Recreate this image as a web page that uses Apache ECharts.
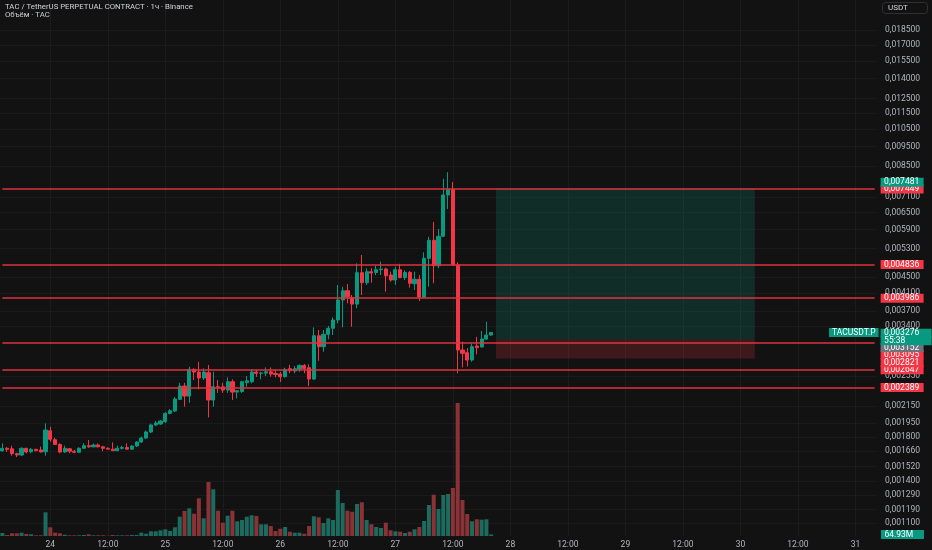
<!DOCTYPE html>
<html>
<head>
<meta charset="utf-8">
<script src="https://cdn.jsdelivr.net/npm/echarts@6/dist/echarts.min.js"></script>
<style>
html,body{margin:0;padding:0;background:#121212;}
#c{width:932px;height:550px;}
</style>
</head>
<body>
<div id="c"></div>
<script>
// ---- DATA (hourly candles, TAC/USDT perpetual) ----
const opens = [
0.001663,0.001688,0.001683,0.001637,0.001625,0.001688,0.001655,0.001678,0.001672,0.001655,
0.001866,0.001773,0.001726,0.001653,0.001683,0.001660,0.001650,0.001688,0.001714,0.001702,
0.001720,0.001702,0.001688,0.001680,0.001665,0.001688,0.001695,0.001680,0.001710,0.001750,
0.001790,0.001853,0.001929,0.001940,0.001966,0.002061,0.002089,0.002234,0.002410,0.002276,
0.002652,0.002612,0.002524,0.002602,0.002225,0.002400,0.002400,0.002356,0.002471,0.002329,
0.002337,0.002457,0.002471,0.002612,0.002593,0.002596,0.002616,0.002590,0.002582,0.002543,
0.002662,0.002627,0.002652,0.002713,0.002677,0.002509,0.003215,0.003020,0.003241,0.003355,
0.003518,0.003945,0.004160,0.004002,0.003853,0.004612,0.004355,0.004638,0.004618,0.004692,
0.004711,0.004551,0.004423,0.004692,0.004484,0.004618,0.004330,0.004441,0.004010,0.005008,
0.005552,0.004800,0.005680,0.007195,0.007420,0.004820,0.002963,0.002917,0.002797,0.003032,
0.003015,0.003154,0.003228];
const closes = [
0.001688,0.001678,0.001637,0.001625,0.001688,0.001653,0.001678,0.001665,0.001653,0.001874,
0.001777,0.001726,0.001653,0.001688,0.001660,0.001650,0.001688,0.001714,0.001702,0.001720,
0.001702,0.001688,0.001680,0.001665,0.001688,0.001695,0.001680,0.001710,0.001750,0.001790,
0.001853,0.001929,0.001951,0.001973,0.002061,0.002093,0.002238,0.002410,0.002276,0.002652,
0.002612,0.002524,0.002612,0.002225,0.002400,0.002395,0.002356,0.002471,0.002329,0.002347,
0.002471,0.002485,0.002612,0.002593,0.002596,0.002616,0.002582,0.002575,0.002543,0.002652,
0.002631,0.002662,0.002713,0.002667,0.002509,0.003215,0.003020,0.003241,0.003355,0.003518,
0.003945,0.004160,0.004016,0.003853,0.004612,0.004355,0.004638,0.004604,0.004692,0.004711,
0.004532,0.004423,0.004692,0.004484,0.004618,0.004340,0.004441,0.004010,0.005008,0.005552,
0.004800,0.005680,0.007195,0.007420,0.004820,0.002963,0.002907,0.002797,0.003020,0.003003,
0.003154,0.003228,0.003276];
const highs = [
0.001737,0.001700,0.001713,0.001646,0.001697,0.001692,0.001690,0.001683,0.001704,0.001947,
0.001910,0.001794,0.001737,0.001714,0.001692,0.001672,0.001697,0.001737,0.001770,0.001734,
0.001737,0.001712,0.001697,0.001747,0.001714,0.001712,0.001737,0.001718,0.001760,0.001805,
0.001870,0.001945,0.001973,0.001985,0.002077,0.002113,0.002264,0.002455,0.002455,0.002692,
0.002667,0.002770,0.002667,0.002719,0.002616,0.002495,0.002456,0.002535,0.002505,0.002356,
0.002485,0.002553,0.002652,0.002642,0.002616,0.002682,0.002682,0.002642,0.002612,0.002677,
0.002722,0.002703,0.002729,0.002734,0.002729,0.003373,0.003322,0.003322,0.003400,0.003573,
0.004298,0.004257,0.004322,0.004059,0.004864,0.005104,0.004730,0.004730,0.004801,0.004913,
0.004746,0.004638,0.004773,0.004853,0.004676,0.004657,0.004638,0.004551,0.005184,0.005667,
0.006169,0.005923,0.007894,0.008197,0.007750,0.004895,0.003107,0.002997,0.003078,0.003195,
0.003304,0.003484,0.003280];
const lows = [
0.001658,0.001653,0.001618,0.001605,0.001615,0.001641,0.001641,0.001660,0.001647,0.001618,
0.001753,0.001720,0.001641,0.001644,0.001641,0.001641,0.001647,0.001685,0.001693,0.001697,
0.001697,0.001660,0.001678,0.001662,0.001660,0.001676,0.001676,0.001672,0.001700,0.001740,
0.001782,0.001840,0.001918,0.001929,0.001951,0.002050,0.002077,0.002225,0.002142,0.002191,
0.002495,0.002365,0.002495,0.002015,0.002142,0.002318,0.002318,0.002318,0.002225,0.002246,
0.002318,0.002400,0.002448,0.002540,0.002505,0.002553,0.002543,0.002533,0.002467,0.002533,
0.002593,0.002593,0.002616,0.002593,0.002410,0.002495,0.002786,0.002934,0.003150,0.003228,
0.003452,0.003373,0.003870,0.003385,0.003763,0.004059,0.004298,0.004355,0.004551,0.004551,
0.004137,0.004380,0.004298,0.004470,0.004423,0.004234,0.004177,0.003922,0.003983,0.004257,
0.004340,0.004730,0.005667,0.006640,0.004800,0.002593,0.002682,0.002698,0.002770,0.002890,
0.003003,0.003137,0.003215];
// volume in millions
const volumes = [
120,40,108,108,132,80,68,28,28,948,
348,132,108,52,28,28,28,40,68,28,
28,28,12,40,28,28,28,40,40,132,
92,188,188,228,268,200,348,772,1000,1108,
892,1508,708,2160,1868,1012,532,812,1012,588,
640,772,828,800,468,468,400,200,292,360,
172,132,132,92,400,788,748,520,708,640,
1840,1320,1012,972,1280,1348,640,468,360,320,
532,228,188,172,120,172,268,360,600,1240,
1652,1080,1640,1680,1920,5320,1440,880,588,668,
652,668,64.93];

const tickLabels = ['24','12:00','25','12:00','26','12:00','27','12:00','28','12:00','29','12:00','30','12:00','31'];
const priceTicks = [0.0185,0.017,0.0155,0.014,0.0125,0.0115,0.0105,0.0095,0.0085,0.0071,0.0065,0.0059,0.0053,
  0.0045,0.0041,0.0037,0.0034,0.00255,0.00215,0.00195,0.0018,0.00166,0.00152,0.0014,0.00129,0.00119,0.0011];
const levelLines = [0.007449, 0.004836, 0.003986, 0.003095, 0.002647, 0.002389];
const positionLevels = [0.007481, 0.003152, 0.002821]; // target, entry, stop
const positionRange = ['27 21:00', '30 03:00'];
const lastPrice = 0.003276;
const countdown = '55:38';
const symbolName = 'TACUSDT.P';
const lastVolumeLabel = '64.93M';

// hourly category axis: 23 14:00 .. 31 04:00
const firstDay = 23, firstHour = 14, hourCount = 183;
const categories = [];
for (let k = 0; k < hourCount; k++) {
  const t = firstHour + k;
  categories.push((firstDay + Math.floor(t / 24)) + ' ' + String(t % 24).padStart(2, '0') + ':00');
}
const firstTickIdx = categories.indexOf('24 00:00');
const catFirst = categories[0], catLast = categories[categories.length - 1];

// ---- STYLE ----
const UP = '#089981', DOWN = '#f23645';
const VOL_UP = '#1d6a5f', VOL_DOWN = '#8a3337';
const LINE_RED = '#dc333f';
const FONT = 'Roboto';
const fmt = v => Number(v).toFixed(6).replace('.', ',');
const labelShift = {0.007481: -6, 0.003276: 4.6, 0.003152: 8.3, 0.003095: 12.3, 0.002821: 4.2};

function tag(lines, bg, shift, w) {
  const rich = {
    t: {backgroundColor: bg, color: '#ffffff', fontSize: 8.5, lineHeight: 7.6, width: w || 36,
        padding: [0, 3.5], fontFamily: FONT, align: 'left'},
    gap: {fontSize: 1, lineHeight: Math.max(1, Math.abs(shift || 0) * 2)}
  };
  let f = lines.map(l => '{t|' + l + '}').join('\n');
  if (shift > 0) f = '{gap| }\n' + f;
  else if (shift < 0) f = f + '\n{gap| }';
  return {show: true, position: 'end', distance: 6, formatter: f, rich};
}
const redLine = () => ({color: LINE_RED, width: 1.6, type: 'solid'});
const hiddenLine = () => ({color: 'rgba(0,0,0,0)', width: 0});

function hLine(v, lineStyle, label) {
  return [{xAxis: catFirst, yAxis: v, lineStyle: lineStyle(), label},
          {xAxis: catLast, yAxis: v, lineStyle: lineStyle()}];
}

const markLineData = [];
levelLines.forEach(v => markLineData.push(hLine(v, redLine, tag([fmt(v)], DOWN, labelShift[v] || 0))));
const posColors = [UP, '#6f727c', DOWN];
positionLevels.forEach((v, i) => markLineData.push(hLine(v, hiddenLine, tag([fmt(v)], posColors[i], labelShift[v] || 0))));
markLineData.push(hLine(lastPrice, hiddenLine, tag([fmt(lastPrice), countdown], UP, labelShift[lastPrice], 44)));
markLineData.push(hLine(lastPrice, hiddenLine, {show: true, position: 'insideEnd', distance: -4,
  formatter: '{t|' + symbolName + '}',
  rich: {t: {backgroundColor: UP, color: '#ffffff', fontSize: 8.5, lineHeight: 7.4, padding: [0, 3], fontFamily: FONT}}}));

const candleData = opens.map((o, i) => [o, closes[i], lows[i], highs[i]]);
const volData = volumes.map((v, i) => ({value: v, itemStyle: {color: closes[i] >= opens[i] ? VOL_UP : VOL_DOWN}}));

const isTick = idx => idx >= firstTickIdx && (idx - firstTickIdx) % 12 === 0;

const chart = echarts.init(document.getElementById('c'), null, {renderer: 'canvas'});
chart.setOption({
  backgroundColor: '#121212',
  animation: false,
  textStyle: {fontFamily: FONT},
  title: {
    text: 'TAC / TetherUS PERPETUAL CONTRACT · 1ч · Binance',
    subtext: 'Объём · TAC',
    left: 5, top: 3, itemGap: 0, padding: 0,
    textStyle: {color: '#d1d4dc', fontSize: 7.8, fontWeight: 'normal', lineHeight: 8.5, fontFamily: FONT},
    subtextStyle: {color: '#c9ccd4', fontSize: 7.8, lineHeight: 8, fontFamily: FONT}
  },
  graphic: [
    {type: 'rect', shape: {x: 882.5, y: 2.5, width: 45, height: 11, r: 3},
     style: {fill: '#121212', stroke: '#2f3034', lineWidth: 1}},
    {type: 'text', x: 888, y: 8, style: {text: 'USDT', fill: '#d1d4dc', fontSize: 8, fontFamily: FONT, verticalAlign: 'middle'}}
  ],
  grid: [
    {left: 0, right: 55, top: 0, bottom: 14},
    {left: 0, right: 55, top: 401, height: 135}
  ],
  xAxis: [
    {type: 'category', data: categories, gridIndex: 0, boundaryGap: true,
     axisLine: {show: false}, axisTick: {show: false, alignWithLabel: true},
     axisLabel: {interval: (idx) => isTick(idx), formatter: (val, idx) => tickLabels[(idx - firstTickIdx) / 12] || '',
       color: '#b2b5be', fontSize: 8.5, margin: 4, fontFamily: FONT},
     splitLine: {show: true, interval: (idx) => isTick(idx), alignWithLabel: true, lineStyle: {color: '#1c1c1c', width: 1}}},
    {type: 'category', data: categories, gridIndex: 1, boundaryGap: true, show: false}
  ],
  yAxis: [
    {type: 'log', logBase: 10, gridIndex: 0, min: 0.0010218, max: 0.021967, position: 'right',
     axisLine: {show: false}, axisTick: {show: false, customValues: priceTicks},
     axisLabel: {customValues: priceTicks, formatter: v => fmt(v), color: '#b2b5be', fontSize: 8.5, margin: 8, fontFamily: FONT},
     splitLine: {show: true, lineStyle: {color: '#1a1a1a', width: 1}}},
    {type: 'value', gridIndex: 1, min: 0, max: 5400, show: false, splitLine: {show: false}}
  ],
  series: [
    {type: 'bar', name: 'volume', xAxisIndex: 1, yAxisIndex: 1, data: volData, barWidth: '84%',
     markLine: {silent: true, symbol: 'none', animation: false,
       data: [{yAxis: volumes[volumes.length - 1], lineStyle: hiddenLine(),
         label: {show: true, position: 'end', distance: 4, formatter: '{t|' + lastVolumeLabel + '}',
           rich: {t: {backgroundColor: UP, color: '#ffffff', fontSize: 8.5, lineHeight: 7.6, width: 36, padding: [0, 3.5], fontFamily: FONT}}}}]}},
    {type: 'candlestick', name: 'TACUSDT.P', xAxisIndex: 0, yAxisIndex: 0, data: candleData, barWidth: '76%',
     itemStyle: {color: UP, color0: DOWN, borderColor: UP, borderColor0: DOWN, borderWidth: 1},
     markArea: {silent: true, data: [
       [{xAxis: positionRange[0], yAxis: positionLevels[0], itemStyle: {color: 'rgba(8,153,129,0.2)'}},
        {xAxis: positionRange[1], yAxis: positionLevels[1]}],
       [{xAxis: positionRange[0], yAxis: positionLevels[1], itemStyle: {color: 'rgba(242,54,69,0.2)'}},
        {xAxis: positionRange[1], yAxis: positionLevels[2]}]
     ]},
     markLine: {silent: true, symbol: 'none', animation: false, emphasis: {disabled: true},
       lineStyle: {color: LINE_RED, width: 1.6, type: 'solid'}, data: markLineData}}
  ]
});
</script>
</body>
</html>
